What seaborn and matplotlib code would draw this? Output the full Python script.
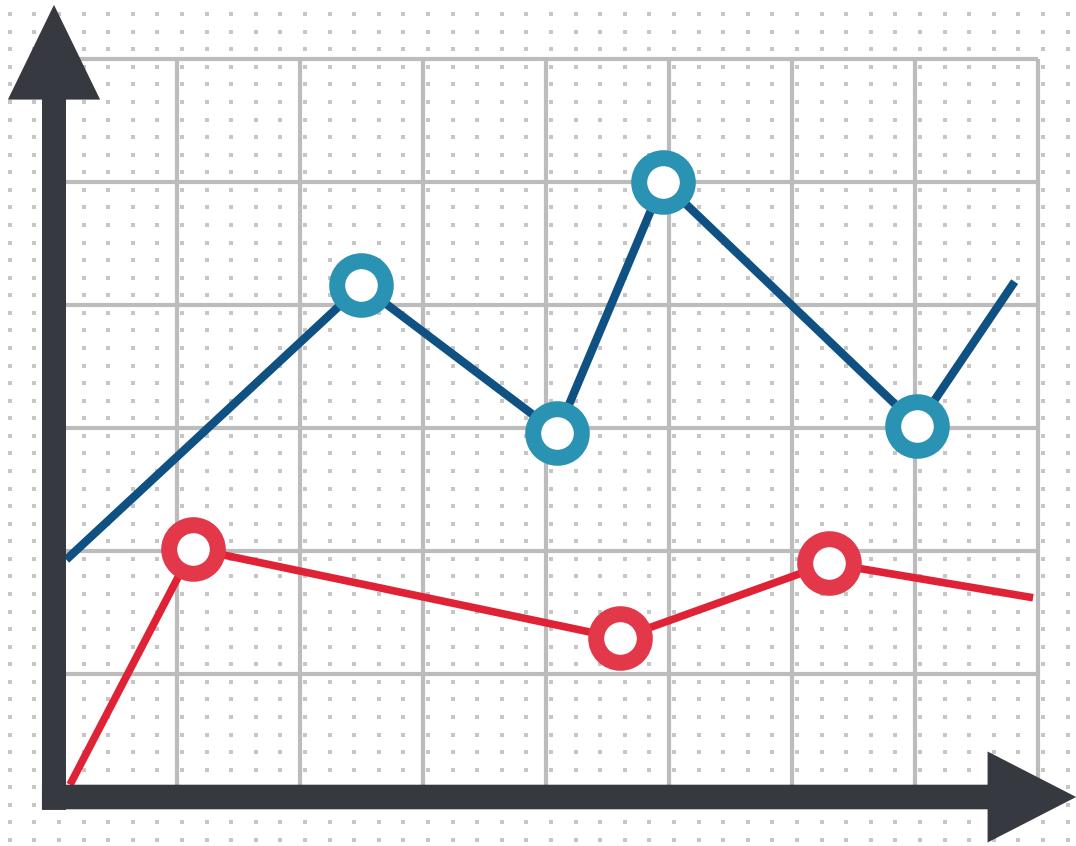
import numpy as np
import pandas as pd
import matplotlib
matplotlib.use("Agg")
import matplotlib.pyplot as plt
import seaborn as sns

# valores (1 unidad = una celda de la rejilla)
blue_x = [0.10, 2.50, 4.09, 4.95, 7.02, 7.81]
blue_y = [1.93, 4.16, 2.96, 5.00, 3.02, 4.19]
blue_marked = [False, True, True, True, True, False]

red_x = [0.13, 1.13, 4.60, 6.30, 7.96]
red_y = [0.10, 2.02, 1.29, 1.90, 1.62]
red_marked = [False, True, True, True, False]

n_cols, n_rows = 8, 6

blue_df = pd.DataFrame({"x": blue_x, "y": blue_y, "marked": blue_marked})
red_df = pd.DataFrame({"x": red_x, "y": red_y, "marked": red_marked})

sns.set_style("white")
fig = plt.figure(figsize=(10.76, 8.46), dpi=100)
ax = fig.add_axes([0, 0, 1, 1])
unit = 123.0
ax.set_xlim(-54 / unit, (1076 - 54) / unit)
ax.set_ylim((797 - 846) / unit, 797 / unit)
ax.axis("off")

# fondo de puntos
gx = np.arange(-54 / unit + 0.08, 8.35, 0.2)
gy = np.arange(-0.35, 6.5, 1 / 7)
mx, my = np.meshgrid(gx, gy)
ax.scatter(mx.ravel(), my.ravel(), s=7, marker="s", color="#c6c6c6", lw=0, zorder=0)

# rejilla
grid_c = "#bcbcbc"
ax.vlines(range(1, n_cols + 1), 0, n_rows, color=grid_c, lw=3, zorder=1)
ax.hlines(range(1, n_rows + 1), 0, n_cols, color=grid_c, lw=3, zorder=1)

# lineas
sns.lineplot(data=blue_df, x="x", y="y", color="#0e5182", lw=6, sort=False,
             ax=ax, zorder=3, solid_capstyle="butt")
sns.lineplot(data=red_df, x="x", y="y", color="#e02236", lw=5.5, sort=False,
             ax=ax, zorder=3, solid_capstyle="butt")

# marcadores en anillo
sns.scatterplot(data=blue_df[blue_df.marked], x="x", y="y", s=1225, color="white",
                edgecolor="#2a93b3", linewidth=11.5, ax=ax, zorder=4)
sns.scatterplot(data=red_df[red_df.marked], x="x", y="y", s=1225, color="white",
                edgecolor="#e2384a", linewidth=11.5, ax=ax, zorder=4)

# ejes con flechas
axis_c = "#363a40"
ax.arrow(0, -0.105, 0, 6.44 + 0.105, width=0.195, head_width=0.75,
         head_length=0.77, length_includes_head=True, color=axis_c, lw=0, zorder=5)
ax.arrow(-0.098, 0, 8.31 + 0.098, 0, width=0.2, head_width=0.74,
         head_length=0.72, length_includes_head=True, color=axis_c, lw=0, zorder=5)

ax.set_xlabel("")
ax.set_ylabel("")
fig.savefig("out.png", dpi=100)
